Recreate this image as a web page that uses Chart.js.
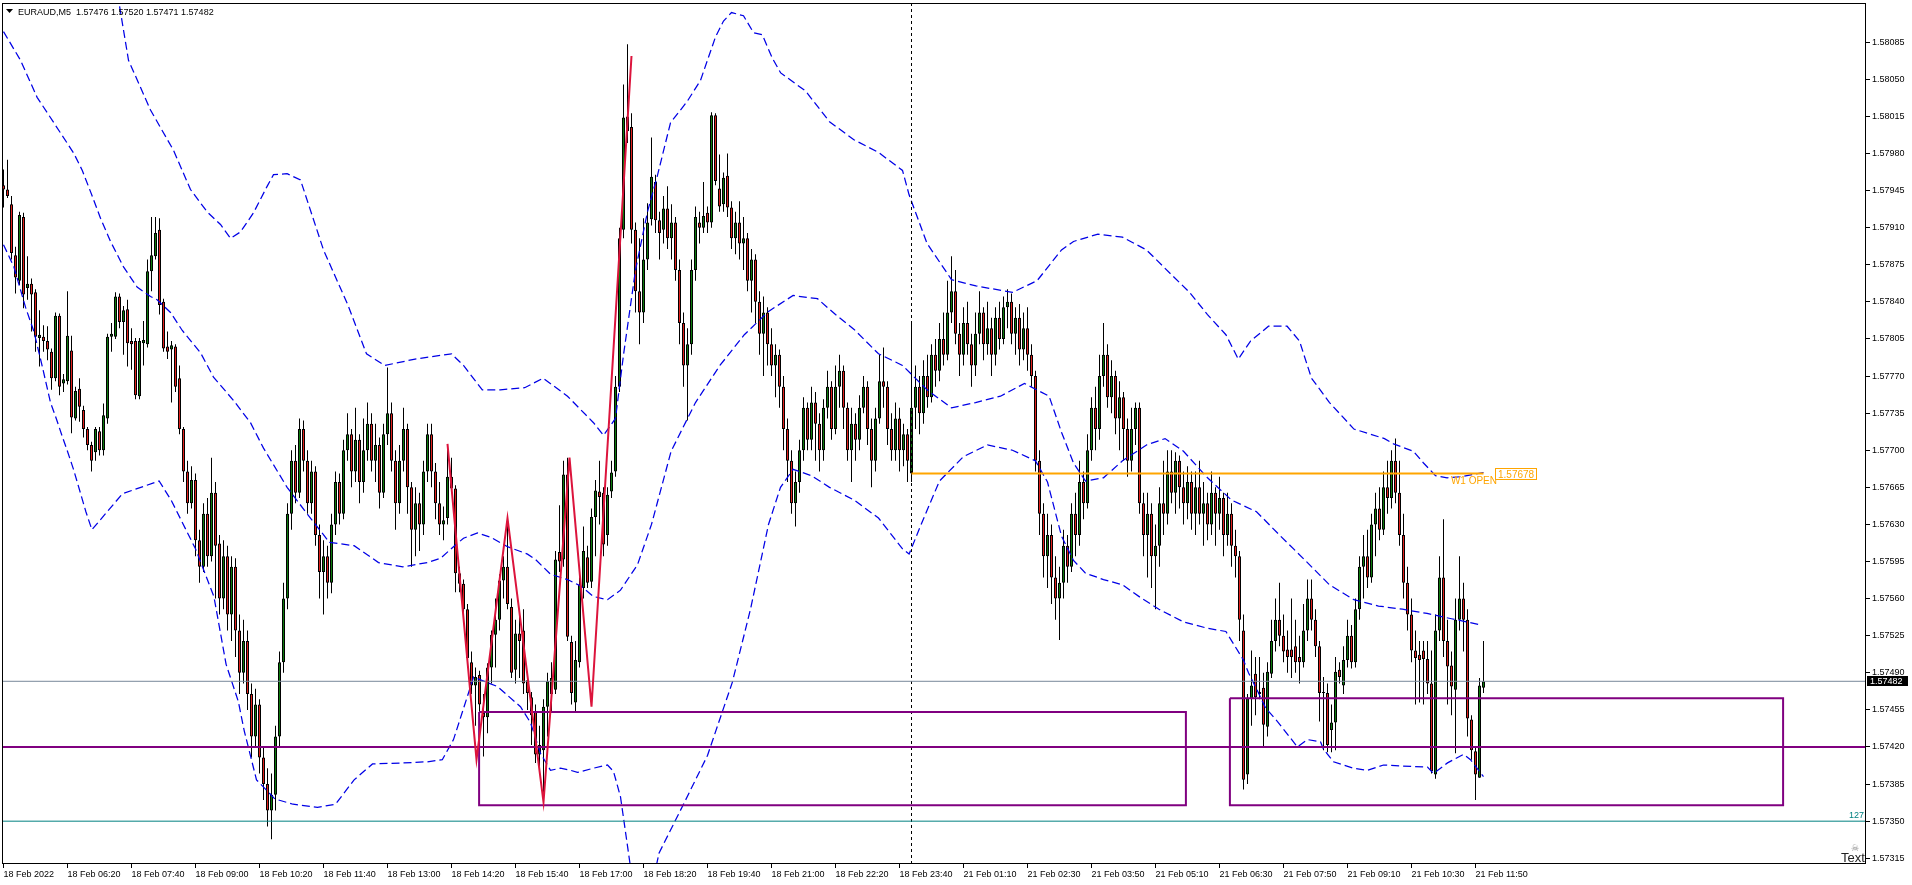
<!DOCTYPE html>
<html>
<head>
<meta charset="utf-8">
<script src="https://cdn.jsdelivr.net/npm/chart.js@4.4.1/dist/chart.umd.min.js"></script>
<style>
  html, body { margin: 0; padding: 0; background: #fff; overflow: hidden; }
  canvas { display: block; }
</style>
</head>
<body>
<canvas id="chart" width="1912" height="885"></canvas>
<script>
// prices are stored in points above 1.57000 (e.g. 482 -> 1.57482)
const BASE_PRICE = 1.57;
const SYMBOL = 'EURAUD,M5';

// EURAUD M5 candles, bar 0 = 18 Feb 05:00, one row = 16 bars
const opens = [
  950,946,932,884,860,920,853,857,849,806,807,803,793,768,827,763,
  765,794,730,758,738,720,705,698,718,700,730,807,807,845,821,833,
  803,803,751,801,800,869,883,908,840,798,795,798,768,720,680,650,
  672,615,590,640,600,660,612,560,600,545,590,530,490,520,470,430,
  460,410,385,360,375,430,500,560,640,690,660,720,690,650,680,620,
  585,600,575,630,670,640,700,715,680,710,670,700,725,690,705,660,
  715,735,690,650,690,720,665,625,650,630,680,715,680,650,630,636,
  675,664,584,574,550,500,478,488,452,448,495,526,540,577,590,552,
  493,527,530,483,467,453,413,417,458,470,474,604,597,677,519,462,
  500,570,599,576,637,661,660,620,661,680,760,908,1015,1005,908,850,
  830,880,918,953,917,908,928,900,915,870,820,780,800,870,915,910,
  924,915,1016,947,932,959,929,900,915,895,900,860,880,840,810,830,
  800,780,790,760,720,690,650,670,700,740,710,745,725,700,740,760,
  720,760,775,740,700,725,710,740,760,720,690,730,765,760,720,700,
  730,700,715,678,740,760,735,770,750,790,775,805,790,830,850,810,
  790,820,800,780,810,830,800,815,790,825,805,835,840,810,825,795,
  815,790,770,690,640,600,620,580,560,575,610,590,640,620,670,650,
  700,740,720,770,790,750,770,730,750,720,690,720,740,650,620,640,
  600,610,650,640,680,660,690,665,650,670,640,665,640,650,630,660,
  640,655,620,640,610,600,530,394,466,489,470,476,439,489,520,540,
  525,512,512,515,505,500,530,560,540,515,471,471,436,443,493,478,
  502,525,500,550,590,600,580,630,645,625,665,655,690,660,620,575,
  545,511,507,511,503,480,394,530,580,520,497,474,540,560,540,446,
  416,391,476
];
const highs = [
  965,974,940,892,925,924,883,862,852,832,818,817,796,830,829,772,
  850,808,760,768,742,722,708,722,722,744,810,820,849,848,836,842,
  815,806,806,822,880,920,920,919,843,812,803,800,780,722,690,685,
  678,625,650,655,693,670,620,615,610,600,598,545,540,530,480,475,
  465,420,400,395,440,510,575,650,700,705,730,728,700,690,685,630,
  615,610,640,680,678,710,735,720,740,715,730,745,735,725,712,725,
  778,745,700,705,740,725,670,665,660,690,725,725,688,670,647,706,
  693,667,590,578,555,510,495,492,470,499,530,560,583,600,636,560,
  540,545,550,490,472,460,440,465,490,500,605,648,690,693,525,520,
  580,628,610,645,672,690,665,665,690,770,910,1045,1083,1018,915,900,
  919,933,995,960,925,940,949,932,920,880,830,815,880,930,925,953,
  930,1019,1018,979,962,980,935,925,935,920,905,890,885,850,845,835,
  815,800,795,770,730,700,680,710,750,745,760,755,735,748,775,765,
  780,790,780,745,740,735,752,770,765,730,740,790,797,765,735,745,
  740,725,720,820,780,770,785,790,800,805,820,830,860,883,870,820,
  835,840,810,830,850,835,840,825,835,840,845,852,848,835,838,830,
  835,800,775,700,650,640,630,600,590,625,620,650,660,690,680,715,
  750,760,790,820,800,785,775,765,755,730,740,745,745,660,660,650,
  630,665,690,700,700,698,695,680,685,680,680,690,670,660,680,665,
  675,660,660,650,625,605,545,470,511,505,505,490,500,540,560,575,
  545,530,560,540,525,555,578,578,550,520,486,480,460,505,500,515,
  540,535,560,600,620,625,640,660,665,680,690,700,711,690,640,590,
  560,530,520,520,520,511,545,600,635,540,510,560,600,575,550,450,
  420,485,520
];
const lows = [
  929,938,880,848,856,834,842,812,793,779,793,785,757,765,752,755,
  762,716,728,727,712,700,680,690,695,695,725,793,805,815,790,779,
  776,748,748,780,797,850,880,828,793,786,745,755,715,670,640,645,
  600,575,585,590,595,560,545,550,530,520,505,470,480,455,410,420,
  395,370,345,333,360,420,490,550,625,650,655,680,640,640,610,560,
  545,560,565,620,630,635,690,665,670,650,660,690,680,670,645,655,
  705,680,625,640,680,640,590,600,605,620,670,665,635,620,615,630,
  660,566,566,545,495,470,440,401,411,433,480,495,530,560,550,485,
  480,485,470,455,422,405,395,368,430,452,470,585,590,520,460,452,
  495,560,570,570,600,630,600,610,655,675,755,900,990,895,830,800,
  820,870,912,905,880,895,890,880,860,800,760,728,790,860,895,905,
  905,910,950,925,925,920,890,885,880,870,850,830,820,790,770,780,
  770,750,740,700,670,640,628,660,690,700,700,690,680,690,730,710,
  715,740,720,690,670,690,700,735,705,665,680,725,740,705,690,690,
  680,685,670,670,720,715,725,740,745,760,765,780,785,820,800,770,
  780,790,760,770,800,785,790,770,780,795,800,815,800,790,780,785,
  775,760,680,620,580,570,555,540,521,560,575,585,600,610,635,645,
  690,700,710,760,740,735,715,700,690,675,680,705,640,600,580,570,
  550,590,620,630,650,640,645,630,635,625,620,630,610,615,620,610,
  625,600,610,590,580,520,380,385,440,450,465,420,430,485,510,515,
  500,490,485,490,480,495,520,530,505,444,417,415,415,417,480,470,
  495,494,495,540,560,570,575,600,615,620,640,645,650,610,560,530,
  500,460,462,460,470,395,390,520,505,460,450,414,530,510,430,408,
  370,391,471
];
const closes = [
  946,940,886,863,922,847,857,847,807,809,803,795,768,827,760,767,
  808,731,756,741,720,705,690,720,700,733,807,810,845,821,832,801,
  800,752,803,804,869,884,905,837,796,793,799,760,720,680,650,672,
  615,590,640,600,660,610,560,600,545,590,530,490,520,470,430,460,
  410,385,360,375,430,500,560,640,690,660,720,690,650,680,620,585,
  600,575,630,670,640,700,715,680,710,670,700,725,690,705,660,715,
  735,690,650,690,720,665,625,650,630,680,715,680,650,630,634,675,
  664,584,574,550,504,478,486,460,448,495,526,540,577,590,555,490,
  527,520,480,471,450,413,422,458,482,485,597,595,677,524,471,502,
  573,605,575,637,662,656,611,658,679,760,900,1014,1001,908,850,830,
  880,915,958,917,905,928,900,915,870,820,780,800,870,920,910,921,
  915,1016,954,930,957,929,900,915,895,900,860,880,840,810,830,800,
  780,790,760,720,690,650,670,700,740,710,745,725,700,740,760,720,
  760,775,740,700,725,710,740,760,720,690,730,765,760,720,700,730,
  700,715,690,740,760,735,770,750,790,775,805,790,830,850,810,790,
  820,800,780,810,830,800,815,790,825,805,835,840,810,825,795,815,
  790,770,690,640,600,620,580,560,575,610,590,640,620,670,650,700,
  740,720,770,790,750,770,730,750,720,690,720,740,650,620,640,600,
  610,650,640,680,660,690,665,650,670,640,665,640,650,630,660,640,
  655,620,640,610,600,540,389,466,478,467,472,441,491,520,540,525,
  510,505,505,500,500,530,560,540,515,471,472,422,443,491,486,502,
  525,500,550,590,600,580,630,645,625,665,655,690,660,620,575,545,
  511,504,502,503,480,397,530,580,520,496,477,540,560,540,447,417,
  394,478,482
];

// time axis labels and the bar they sit on
const timeTickBars = [0,16,32,48,64,80,96,112,128,144,160,176,192,208,224,240,256,272,288,304,320,336,352,368];
const timeTickLabels = [
  '18 Feb 2022','18 Feb 06:20','18 Feb 07:40','18 Feb 09:00','18 Feb 10:20','18 Feb 11:40',
  '18 Feb 13:00','18 Feb 14:20','18 Feb 15:40','18 Feb 17:00','18 Feb 18:20','18 Feb 19:40',
  '18 Feb 21:00','18 Feb 22:20','18 Feb 23:40','21 Feb 01:10','21 Feb 02:30','21 Feb 03:50',
  '21 Feb 05:10','21 Feb 06:30','21 Feb 07:50','21 Feb 09:10','21 Feb 10:30','21 Feb 11:50'
];
const priceTicks = [315,350,385,420,455,490,525,560,595,630,665,700,735,770,805,840,875,910,945,980,1015,1050,1085];

// bands: [bar, price]
const upperBand = [
  [20,1190],[26,1150],[28.75,1125],[31.25,1068],[36.75,1021],[42.5,983],[46.75,946],[50.9,925],[54.25,913],
  [56.75,900],[59.25,906],[62.5,924],[65.9,949],[67.5,960],[70.9,961],[74.25,955],[80,889],[86.1,837],
  [90.75,791],[95.3,780],[102.9,786],[112,791],[115,780],[119.7,757],[124.2,757],[130.3,759],[134.9,768],
  [141,751],[147.5,726],[150,714],[153,730],[155,790],[158,870],[161,925],[163.4,958],[166.75,1009],
  [170.9,1029],[174.25,1049],[178,1090],[180,1105],[182,1113],[185,1110],[187.5,1094],[189.7,1092],
  [192.2,1070],[194.3,1056],[200.5,1039],[206.5,1010],[212.6,993],[218.75,981],[224.75,964],[226.4,941],
  [230.9,895],[237,861],[243.1,855],[252.25,849],[258.4,860],[264.5,889],[267.5,897],[273.6,904],
  [279.75,901],[285.75,889],[291.9,866],[296.5,849],[301,828],[305.6,809],[308.7,786],[311.75,803],
  [316.25,817],[320.9,817],[324,803],[327,768],[331.5,745],[337.6,720],[345.25,711],[347.5,706],
  [352.5,699],[355,688],[358,676],[360.9,674],[364.25,675],[370,679]
];
const middleBand = [
  [0,1095],[4.25,1068],[8.4,1033],[14.5,998],[17.6,980],[19.7,964],[21.75,944],[24.25,919],[26.75,897],
  [30,873],[33.4,854],[36.75,845],[38.4,842],[41.75,830],[44.7,813],[49.25,792],[52.5,769],[57.5,747],
  [61.75,726],[65,702],[70.9,665],[75.5,642],[81.5,613],[87.65,610],[93.75,594],[99.85,590],[105.95,594],
  [109.25,598],[112.5,609],[115,617],[118.5,622],[121.75,618],[126,609],[131,602],[133,597],[136.75,583],
  [141,578],[144.25,572],[147.5,562],[151,559],[154.25,568],[158.5,592],[162,630],[166.9,699],[173,745],
  [179.1,780],[185.2,809],[191.25,831],[197.4,846],[203.5,843],[208,828],[212.65,814],[218.75,791],
  [224.75,780],[230.9,757],[237,740],[243,745],[249.25,751],[255.25,763],[261.4,751],[264.5,717],
  [267.5,688],[270.5,671],[275,674],[279.75,690],[285.75,705],[290.4,711],[295,699],[301,674],[307,653],
  [313.25,642],[319.25,619],[325.45,596],[331.5,573],[337.6,559],[343.75,553],[349.75,550],[355.9,546],
  [362,541],[369.6,535]
];
const lowerBand = [
  [0,894],[2.6,873],[5.5,835],[7.6,812],[9.7,779],[11.75,745],[13,732],[14.7,713],[15.9,700],[17.5,682],
  [20.6,642],[22.1,625],[29.75,659],[38.9,671],[41.9,653],[48,607],[52.6,562],[55.65,498],[58.7,463],
  [60.2,435],[63.25,389],[67.85,371],[72.4,366],[78.5,363],[83,366],[87.65,389],[92.25,404],[99.85,405],
  [105.95,406],[109.7,408],[112.5,427],[116.25,471],[117.5,486],[123.5,477],[129.25,458],[131.75,443],
  [134.25,414],[136.75,398],[139.25,400],[141.75,398],[143.5,396],[147.5,400],[151,403],[152.5,397],
  [154.25,373],[157,300],[161,270],[163.9,320],[170,366],[176,412],[182.2,481],[186.75,550],[191.25,630],
  [194.25,665],[197.4,682],[202,676],[206.5,665],[212.65,653],[218.75,636],[224.75,607],[226.4,602],
  [229.4,630],[234,671],[240,694],[246,705],[252.25,700],[258,690],[261,670],[264.5,619],[267.5,596],
  [270.5,584],[275,578],[279.75,573],[284.25,561],[288.85,550],[295,538],[301,532],[305.6,529],[310,502],
  [311.25,490],[313.75,471],[315.5,457],[318.5,444],[319.75,438],[323.5,420],[326,427],[329.25,425],
  [330,418],[332.5,406],[337.5,400],[341,398],[345,403],[349.25,402],[356,401],[357.5,395],[361,405],
  [365,413],[366.75,408],[370,392]
];
const zigzag = [[111,706],[118.25,408],[126,636],[135,368],[141.5,693],[147,458],[157,1072]];

// levels and zones
const supportLevel = 420;
const tealLevel = 350;
const tealLabel = '127';
const weekOpen = 678;
const weekOpenFrom = 227, weekOpenTo = 370;
const separatorBar = 227;
const zoneBoxes = [[118.9, 295.6, 453, 365], [306.6, 444.9, 466, 365]]; // [fromBar, toBar, top, bottom]

const X_MIN = -0.375, X_MAX = 465.625;
const Y_MIN = 309.6, Y_MAX = 1122;

const BULL = '#0d7a0d';
const BEAR = '#e0201c';
const PURPLE = '#800080';
const ORANGE = '#ffa500';
const BAND = '#0000e6';
const AXIS_FONT = { family: "'Liberation Sans', Arial, sans-serif", size: 9 };

const toPrice = v => (BASE_PRICE + v / 100000).toFixed(5);
const last = closes.length - 1;
const bidPrice = closes[last];

const barIdx = opens.map((_, i) => i);
const wickData = barIdx.map(i => ({ x: i, y: [lows[i], highs[i]] }));
const bodyData = barIdx.map(i => {
  let lo = Math.min(opens[i], closes[i]);
  let hi = Math.max(opens[i], closes[i]);
  if (hi - lo < 1) { lo -= 0.5; hi += 0.5; }
  return { x: i, y: [lo, hi] };
});
const bodyColors = barIdx.map(i => closes[i] >= opens[i] ? BULL : BEAR);

const pts = arr => arr.map(p => ({ x: p[0], y: p[1] }));
const hLine = (y, from = X_MIN, to = X_MAX) => [{ x: from, y }, { x: to, y }];
const box = b => [
  { x: b[0], y: b[2] }, { x: b[1], y: b[2] }, { x: b[1], y: b[3] }, { x: b[0], y: b[3] }, { x: b[0], y: b[2] }
];

const lineBase = { type: 'line', pointRadius: 0, borderWidth: 1, fill: false, tension: 0 };

// frame, header and text labels
const overlay = {
  id: 'overlay',
  afterDraw(chart) {
    const { ctx, chartArea: a, scales: { x, y } } = chart;
    ctx.save();

    ctx.strokeStyle = '#000';
    ctx.lineWidth = 1;
    ctx.strokeRect(a.left + 0.5, a.top + 0.5, a.width - 1, a.height - 1);

    // header
    ctx.fillStyle = '#000';
    ctx.beginPath();
    ctx.moveTo(6, 9); ctx.lineTo(13, 9); ctx.lineTo(9.5, 13); ctx.closePath();
    ctx.fill();
    ctx.font = "9px 'Liberation Sans', Arial, sans-serif";
    ctx.textBaseline = 'alphabetic';
    ctx.fillText(SYMBOL + '  ' + [opens[last], highs[last], lows[last], closes[last]].map(toPrice).join(' '), 18, 15);

    // week open label + price box
    const wy = y.getPixelForValue(weekOpen);
    const boxLeft = Math.round(x.getPixelForValue(weekOpenTo)) + 11;
    ctx.font = "10px 'Liberation Sans', Arial, sans-serif";
    ctx.fillStyle = ORANGE;
    ctx.textAlign = 'right';
    ctx.fillText('W1 OPEN', boxLeft + 2, wy + 10);
    ctx.fillStyle = '#fff';
    ctx.fillRect(boxLeft, Math.round(wy) - 6, 41, 12);
    ctx.strokeStyle = ORANGE;
    ctx.strokeRect(boxLeft + 0.5, Math.round(wy) - 5.5, 41, 11);
    ctx.fillStyle = ORANGE;
    ctx.textAlign = 'left';
    ctx.fillText(toPrice(weekOpen), boxLeft + 3, wy + 4);

    // teal level tag
    ctx.font = "9px 'Liberation Sans', Arial, sans-serif";
    ctx.fillStyle = '#008080';
    ctx.textAlign = 'right';
    ctx.fillText(tealLabel, a.right - 2, y.getPixelForValue(tealLevel) - 3);

    // bid price box on the axis
    const by = Math.round(y.getPixelForValue(bidPrice));
    ctx.fillStyle = '#000';
    ctx.fillRect(a.right + 1, by - 5, 41, 10);
    ctx.fillStyle = '#fff';
    ctx.textAlign = 'left';
    ctx.textBaseline = 'middle';
    ctx.fillText(toPrice(bidPrice), a.right + 4, by + 0.5);

    // text object in the corner
    ctx.textBaseline = 'alphabetic';
    ctx.fillStyle = '#888';
    ctx.font = "9px 'DejaVu Sans', sans-serif";
    ctx.textAlign = 'center';
    ctx.fillText('\u2620', a.right - 11, a.bottom - 13);
    ctx.fillStyle = '#222';
    ctx.font = "13px 'Liberation Sans', Arial, sans-serif";
    ctx.textAlign = 'left';
    ctx.fillText('Text', a.right - 25, a.bottom - 2);

    ctx.restore();
  }
};

new Chart(document.getElementById('chart'), {
  type: 'bar',
  data: {
    datasets: [
      { ...lineBase, data: pts(zigzag), borderColor: '#dc143c', borderWidth: 2, order: 0 },
      { ...lineBase, data: box(zoneBoxes[0]), borderColor: PURPLE, borderWidth: 2, order: 1 },
      { ...lineBase, data: box(zoneBoxes[1]), borderColor: PURPLE, borderWidth: 2, order: 1 },
      { ...lineBase, data: hLine(supportLevel), borderColor: PURPLE, borderWidth: 2, order: 1 },
      { ...lineBase, data: hLine(weekOpen, weekOpenFrom, weekOpenTo), borderColor: ORANGE, borderWidth: 2, order: 1 },
      { ...lineBase, data: hLine(tealLevel), borderColor: '#008080', order: 1 },
      { ...lineBase, data: hLine(bidPrice), borderColor: '#778899', order: 2 },
      { ...lineBase, data: [{ x: separatorBar, y: Y_MIN }, { x: separatorBar, y: Y_MAX }], borderColor: '#000', borderDash: [3, 3], order: 2 },
      { ...lineBase, data: pts(upperBand), borderColor: BAND, borderWidth: 1.25, borderDash: [8, 4], order: 3 },
      { ...lineBase, data: pts(middleBand), borderColor: BAND, borderWidth: 1.25, borderDash: [8, 4], order: 3 },
      { ...lineBase, data: pts(lowerBand), borderColor: BAND, borderWidth: 1.25, borderDash: [8, 4], order: 3 },
      {
        type: 'bar', data: bodyData, backgroundColor: bodyColors, borderColor: '#000', borderWidth: 1,
        borderSkipped: false, barThickness: 3, grouped: false, inflateAmount: 0, order: 4
      },
      {
        type: 'bar', data: wickData, backgroundColor: '#000', borderWidth: 0,
        barThickness: 1, grouped: false, inflateAmount: 0, order: 5
      }
    ]
  },
  options: {
    responsive: false,
    animation: false,
    devicePixelRatio: 1,
    events: [],
    layout: { autoPadding: false, padding: { left: 2, top: 3, right: 0, bottom: 0 } },
    plugins: { legend: { display: false }, tooltip: { enabled: false }, title: { display: false } },
    scales: {
      x: {
        type: 'linear', min: X_MIN, max: X_MAX, offset: false, bounds: 'data',
        afterBuildTicks: s => { s.ticks = timeTickBars.map(v => ({ value: v })); },
        afterFit: s => { s.height = 21; s.paddingLeft = 0; s.paddingRight = 0; },
        ticks: {
          callback: (v, i) => timeTickLabels[i], align: 'start', autoSkip: false,
          maxRotation: 0, minRotation: 0, padding: 1, color: '#000', font: AXIS_FONT
        },
        grid: { display: true, drawOnChartArea: false, drawTicks: true, tickLength: 4, color: '#000', offset: false },
        border: { display: false }
      },
      y: {
        type: 'linear', position: 'right', min: Y_MIN, max: Y_MAX, bounds: 'data',
        afterBuildTicks: s => { s.ticks = priceTicks.map(v => ({ value: v })); },
        afterFit: s => { s.width = 46; s.paddingTop = 0; s.paddingBottom = 0; },
        ticks: { callback: v => toPrice(v), padding: 2, color: '#000', font: AXIS_FONT },
        grid: { display: true, drawOnChartArea: false, drawTicks: true, tickLength: 4, color: '#000' },
        border: { display: false }
      }
    }
  },
  plugins: [overlay]
});
</script>
</body>
</html>
